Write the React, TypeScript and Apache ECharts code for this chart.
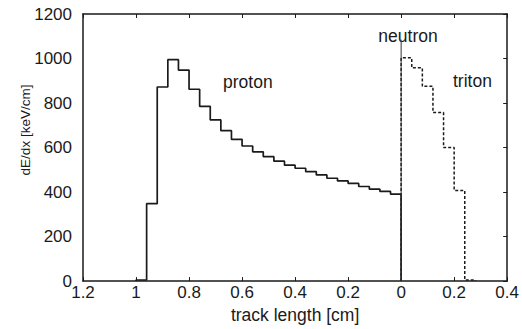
import React, { useEffect, useRef } from "react";
import * as echarts from "echarts";

// Proton: bin edges (track length in cm, from 1.00 down to 0.00) and dE/dx per bin
const protonEdges = [1.0, 0.96, 0.92, 0.88, 0.84, 0.8, 0.76, 0.72, 0.68, 0.64, 0.6, 0.56, 0.52, 0.48, 0.44, 0.4, 0.36, 0.32, 0.28, 0.24, 0.2, 0.16, 0.12, 0.08, 0.04, 0.0];
const protonValues = [5, 348, 872, 995, 948, 862, 785, 724, 676, 637, 607, 581, 559, 539, 521, 507, 492, 477, 462, 450, 439, 425, 413, 403, 391];

// Triton: bin edges (track length in cm, 0 to 0.28) and dE/dx per bin
const tritonEdges = [0.0, 0.04, 0.08, 0.12, 0.16, 0.2, 0.24, 0.28];
const tritonValues = [1003, 958, 875, 757, 600, 407, 5];

// Neutron marker at origin
const neutronTop = 1085;

const xTicks = { min: -1.2, max: 0.4, interval: 0.2 };
const yTicks = { min: 0, max: 1200, interval: 200 };

const FONT = "Liberation Sans, Arial, sans-serif";
const INK = "#1a1a1a";

function stepPoints(edges: number[], values: number[], sign: number): number[][] {
  const pts: number[][] = [[sign * edges[0], 0]];
  values.forEach((v, i) => {
    pts.push([sign * edges[i], v]);
    pts.push([sign * edges[i + 1], v]);
  });
  pts.push([sign * edges[edges.length - 1], 0]);
  return pts;
}

const fmtX = (v: number) => {
  const a = Math.abs(Math.round(v * 10) / 10);
  return a === 0 ? "0" : String(a);
};
const fmtY = (v: number) => String(Math.round(v));

export default function App() {
  const ref = useRef<HTMLDivElement>(null);
  useEffect(() => {
    document.body.style.margin = "0";
    if (!ref.current) return;
    const chart = echarts.init(ref.current, null, { renderer: "svg" });
    const axisLine = { show: true, onZero: false, lineStyle: { color: INK, width: 1.5 } };
    const tickLabel = { fontFamily: FONT, fontSize: 17, color: INK };
    chart.setOption({
      animation: false,
      backgroundColor: "#ffffff",
      grid: { left: 83, right: 11, top: 14, bottom: 45 },
      xAxis: [
        {
          type: "value",
          ...xTicks,
          position: "bottom",
          axisLine,
          axisTick: { show: true, inside: true, length: 4, lineStyle: { color: INK, width: 1 } },
          axisLabel: { ...tickLabel, margin: 3, formatter: fmtX },
          splitLine: { show: false },
          name: "track length [cm]",
          nameLocation: "middle",
          nameGap: 22,
          nameTextStyle: { fontFamily: FONT, fontSize: 17.5, color: INK },
        },
        {
          type: "value",
          ...xTicks,
          position: "top",
          axisLine,
          axisTick: { show: true, inside: true, length: 4, lineStyle: { color: INK, width: 1 } },
          axisLabel: { show: false },
          splitLine: { show: false },
        },
      ],
      yAxis: [
        {
          type: "value",
          ...yTicks,
          position: "left",
          axisLine,
          axisTick: { show: false },
          axisLabel: { ...tickLabel, margin: 11, formatter: fmtY },
          splitLine: { show: false },
        },
        {
          type: "value",
          ...yTicks,
          position: "right",
          axisLine,
          axisTick: { show: true, inside: true, length: 4, lineStyle: { color: INK, width: 1 } },
          axisLabel: { show: false },
          splitLine: { show: false },
        },
      ],
      series: [
        {
          name: "neutron",
          type: "line",
          symbol: "none",
          data: [
            [0, 0],
            [0, neutronTop],
          ],
          lineStyle: { color: "#333", width: 1 },
          z: 3,
        },
        {
          name: "proton",
          type: "line",
          symbol: "none",
          data: stepPoints(protonEdges, protonValues, -1),
          lineStyle: { color: INK, width: 1.7 },
          z: 2,
        },
        {
          name: "triton",
          type: "line",
          symbol: "none",
          data: stepPoints(tritonEdges, tritonValues, 1),
          lineStyle: { color: INK, width: 1.5, type: [3, 2] },
          z: 2,
        },
      ],
      graphic: [
        {
          type: "text",
          x: 25,
          y: 130,
          rotation: Math.PI / 2,
          style: { text: "dE/dx [keV/cm]", fontFamily: FONT, fontSize: 13.5, fill: INK, align: "center", verticalAlign: "middle" },
        },
        {
          type: "text",
          x: 223,
          y: 82,
          style: { text: "proton", fontFamily: FONT, fontSize: 17.5, fill: INK, align: "left", verticalAlign: "middle" },
        },
        {
          type: "text",
          x: 408,
          y: 36,
          style: { text: "neutron", fontFamily: FONT, fontSize: 17.5, fill: INK, align: "center", verticalAlign: "middle" },
        },
        {
          type: "text",
          x: 453,
          y: 81,
          style: { text: "triton", fontFamily: FONT, fontSize: 17.5, fill: INK, align: "left", verticalAlign: "middle" },
        },
      ],
    });
    return () => chart.dispose();
  }, []);
  return <div ref={ref} style={{ width: 522, height: 329 }} />;
}
